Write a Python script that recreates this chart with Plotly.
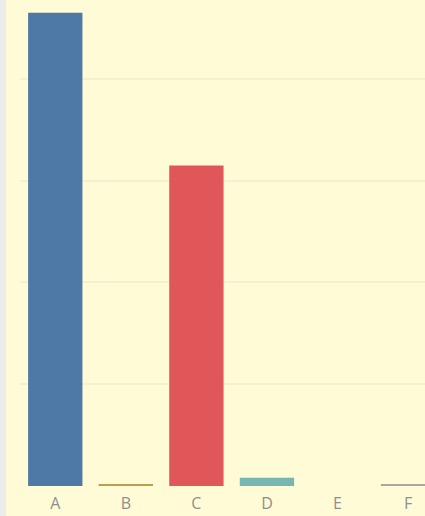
import plotly.graph_objects as go

categories = ["A", "B", "C", "D", "E", "F"]
values = [465, 1.2, 315, 8, 0, 1.2]
colors = ["#4e79a7", "#b8a24a", "#e15759", "#76b7b2", "#59a14f", "#a8a8a0"]

bg = "#fefbd6"

fig = go.Figure(
    go.Bar(
        x=categories,
        y=values,
        marker=dict(color=colors, line=dict(width=0)),
    )
)

fig.update_layout(
    width=425,
    height=516,
    margin=dict(l=20, r=0, t=0, b=30),
    paper_bgcolor=bg,
    plot_bgcolor=bg,
    bargap=0.23,
    showlegend=False,
    xaxis=dict(
        range=[-0.5, 5.24],
        automargin=False,
        showgrid=False,
        zeroline=False,
        showline=False,
        ticks="",
        ticklabelstandoff=6,
        tickfont=dict(family="Open Sans", size=16, color="#8f8f8f"),
    ),
    yaxis=dict(
        range=[0, 477.5],
        automargin=False,
        dtick=100,
        showgrid=True,
        gridcolor="#f4f0d1",
        gridwidth=2,
        zeroline=False,
        showticklabels=False,
        ticks="",
    ),
    shapes=[
        dict(
            type="rect", xref="paper", yref="paper",
            x0=-20 / 405, x1=-14 / 405, y0=-30 / 486, y1=1,
            fillcolor="#ececec", line=dict(width=0), layer="above",
        ),
    ],
)

fig.write_html(
    "out.html",
    config={"displayModeBar": False},
    post_script="document.body.style.margin='0';document.body.style.overflow='hidden';",
)
